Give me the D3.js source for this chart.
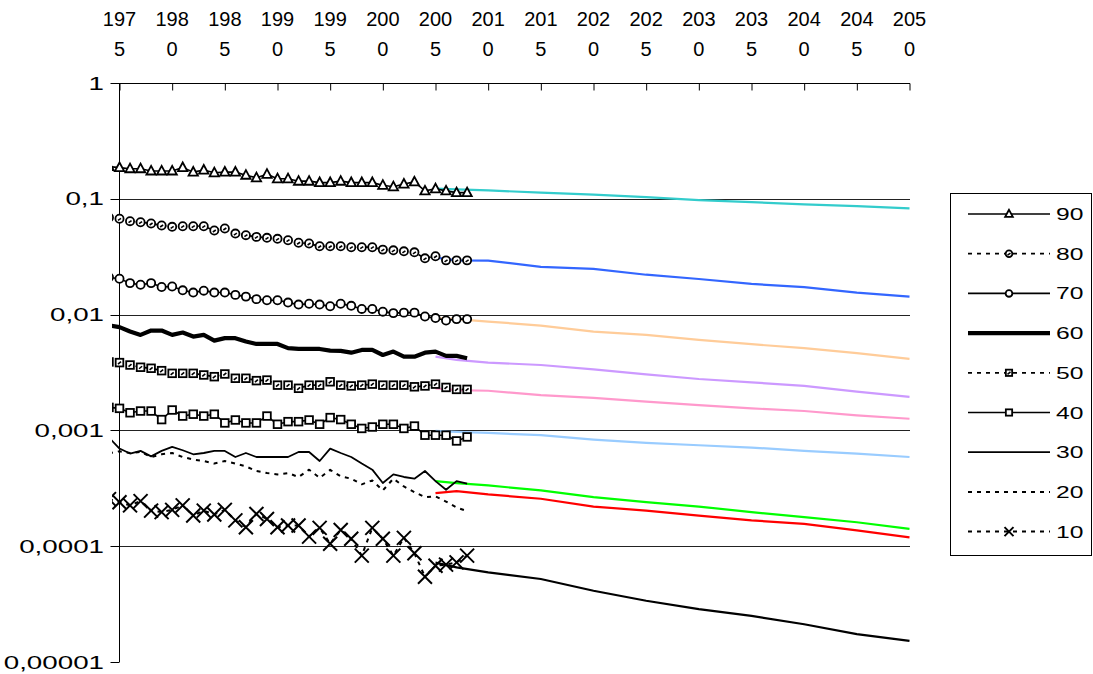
<!DOCTYPE html>
<html><head><meta charset="utf-8">
<script src="https://cdn.jsdelivr.net/npm/d3@7"></script>
<style>
html,body{margin:0;padding:0;background:#fff;}
svg{display:block;font-family:"Liberation Sans",Arial,sans-serif;}
</style></head>
<body>
<svg id="chart" width="1093" height="674"></svg>
<script>
// ---------- DATA ----------
const histYears = [1974,1975,1976,1977,1978,1979,1980,1981,1982,1983,1984,1985,1986,1987,1988,1989,1990,1991,1992,1993,1994,1995,1996,1997,1998,1999,2000,2001,2002,2003,2004,2005,2006,2007,2008];
const s90 = [0.19,0.186,0.182,0.182,0.174,0.174,0.174,0.186,0.170,0.177,0.168,0.170,0.170,0.160,0.152,0.163,0.149,0.149,0.142,0.142,0.138,0.138,0.142,0.138,0.138,0.138,0.131,0.127,0.134,0.140,0.117,0.122,0.117,0.113,0.113];
const s80 = [0.069,0.0672,0.0641,0.0628,0.0612,0.0588,0.0573,0.0580,0.0580,0.0580,0.0532,0.0554,0.0501,0.0485,0.0469,0.0460,0.0451,0.0439,0.0417,0.0411,0.0389,0.0389,0.0389,0.0382,0.0382,0.0382,0.0364,0.0359,0.0352,0.0345,0.0306,0.0319,0.0294,0.0294,0.0294];
const s70 = [0.021,0.0204,0.0187,0.0181,0.0187,0.0173,0.0175,0.0162,0.0155,0.0161,0.0155,0.0155,0.0148,0.0143,0.0136,0.0133,0.0133,0.0127,0.0122,0.0124,0.0122,0.0118,0.0124,0.0119,0.0112,0.0112,0.0106,0.0103,0.0104,0.0104,0.00963,0.00933,0.00889,0.00914,0.00914];
const s60 = [0.0081,0.00779,0.00714,0.00668,0.00728,0.00728,0.00668,0.00700,0.00646,0.00668,0.00596,0.00626,0.00626,0.00585,0.00558,0.00558,0.00558,0.00513,0.00505,0.00505,0.00505,0.00488,0.00486,0.00469,0.00495,0.00495,0.00448,0.00479,0.00433,0.00433,0.00469,0.00479,0.00440,0.00440,0.00420];
const s50 = [0.0039,0.00385,0.00367,0.00351,0.00344,0.00328,0.00311,0.00311,0.00311,0.00301,0.00291,0.00307,0.00282,0.00282,0.00269,0.00272,0.00246,0.00246,0.00231,0.00246,0.00246,0.00263,0.00246,0.00242,0.00246,0.00251,0.00246,0.00246,0.00246,0.00238,0.00242,0.00251,0.00235,0.00226,0.00226];
const s40 = [0.00158,0.00155,0.00142,0.00147,0.00147,0.00124,0.00150,0.00133,0.00138,0.00133,0.00138,0.00116,0.00123,0.00116,0.00116,0.00133,0.00113,0.00119,0.00119,0.00123,0.00113,0.00129,0.00124,0.00113,0.00104,0.00107,0.00113,0.00113,0.00104,0.00109,0.000909,0.000909,0.000909,0.000811,0.000878];
const s30 = [0.000865,0.000697,0.000631,0.000665,0.000597,0.000665,0.000720,0.000674,0.000622,0.000638,0.000665,0.000665,0.000589,0.000638,0.000589,0.000589,0.000589,0.000589,0.000651,0.000651,0.000544,0.000697,0.000638,0.000589,0.000517,0.000458,0.000351,0.000417,0.000396,0.000383,0.000446,0.000365,0.000307,0.000365,0.000347];
const s20 = [0.000634,0.000660,0.000638,0.000651,0.000589,0.000622,0.000638,0.000589,0.000560,0.000544,0.000517,0.000544,0.000517,0.000489,0.000446,0.000428,0.000417,0.000428,0.000396,0.000458,0.000389,0.000456,0.000401,0.000383,0.000342,0.000370,0.000303,0.000383,0.000328,0.000293,0.000265,0.000269,0.000243,0.000216,0.000201];
const s10 = [0.000255,0.000240,0.000225,0.000245,0.000203,0.000197,0.000206,0.000225,0.000184,0.000203,0.000188,0.000206,0.000167,0.000146,0.000190,0.000172,0.000146,0.000151,0.000151,0.000121,0.000144,0.000105,0.000138,0.000116,0.0000829,0.000144,0.000116,0.0000829,0.000118,0.0000868,0.0000545,0.0000679,0.0000693,0.0000725,0.0000829];

const projYears = [2005,2007,2010,2015,2020,2025,2030,2035,2040,2045,2050];
const p90 = [0.1224,0.1207,0.1183,0.1129,0.1085,0.1034,0.0974,0.0936,0.0894,0.0865,0.0826];
const p80 = [0.0311,0.0294,0.0293,0.0258,0.0248,0.0221,0.0203,0.0184,0.0173,0.0155,0.0143];
const p70 = [0.00933,0.00914,0.00871,0.00804,0.00714,0.00668,0.00605,0.00555,0.00513,0.00464,0.00414];
const p60 = [0.00433,0.00406,0.00385,0.00367,0.00337,0.00305,0.00278,0.00260,0.00242,0.00216,0.00195];
const p50 = [0.00231,0.00223,0.00220,0.00202,0.00191,0.00177,0.00165,0.00155,0.00147,0.00135,0.00126];
const p40 = [0.000990,0.000971,0.000951,0.000909,0.000834,0.000779,0.000744,0.000711,0.000665,0.000631,0.000589];
const p30 = [0.000365,0.000351,0.000335,0.000303,0.000265,0.000240,0.000220,0.000197,0.000178,0.000161,0.000141];
const p20 = [0.000287,0.000299,0.000280,0.000257,0.000220,0.000203,0.000184,0.000167,0.000156,0.000137,0.000119];
const p10 = [0.0000721,0.0000657,0.0000594,0.0000521,0.0000412,0.0000338,0.0000286,0.0000250,0.0000212,0.0000174,0.0000152];

const seriesNames = ["90","80","70","60","50","40","30","20","10"];
const projColors = ["#33CCCC","#3366FF","#FFCC99","#CC99FF","#FF99CC","#99CCFF","#00FF00","#FF0000","#000000"];
const xTickYears = [1975,1980,1985,1990,1995,2000,2005,2010,2015,2020,2025,2030,2035,2040,2045,2050];
const yTickValues = [1,0.1,0.01,0.001,0.0001,0.00001];
const yTickLabels = ["1","0,1","0,01","0,001","0,0001","0,00001"];

// ---------- SETUP ----------
const svg = d3.select("#chart");
const plotL = 112, plotR = 910, plotT = 83, plotB = 662;
const x = d3.scaleLinear().domain([1975, 2050]).range([119.5, 909.5]);
const y = d3.scaleLog().domain([1, 0.00001]).range([plotT, plotB]);

svg.append("defs").append("clipPath").attr("id","clip")
  .append("rect").attr("x",plotL).attr("y",plotT-10).attr("width",plotR-plotL+2).attr("height",plotB-plotT+20);

// gridlines
svg.append("g").selectAll("line").data(yTickValues.slice(1,5)).join("line")
  .attr("x1",plotL).attr("x2",plotR)
  .attr("y1",d=>Math.round(y(d))+0.5).attr("y2",d=>Math.round(y(d))+0.5)
  .attr("stroke","#222").attr("stroke-width",1);

// y axis
const yAxis = d3.axisLeft(y).tickValues(yTickValues).tickSize(9).tickFormat(()=> "");
const gy = svg.append("g").attr("transform","translate(119.5,0)").call(yAxis);
gy.select(".domain").attr("stroke","#000").attr("d",`M0,${plotT}V${plotB}`);
gy.selectAll(".tick line").attr("stroke","#000");
gy.selectAll(".tick").attr("transform", d=>`translate(0,${Math.round(y(d))+0.5})`);

svg.append("g").selectAll("text").data(yTickValues).join("text")
  .attr("transform",(d)=>`translate(104,${y(d)+6.5}) scale(1.5,1)`)
  .attr("text-anchor","end").attr("font-size",18.5).attr("fill","#000")
  .text((d,i)=>yTickLabels[i]);

// x axis at top
const xAxis = d3.axisBottom(x).tickValues(xTickYears).tickSize(7).tickFormat(()=> "");
const gx = svg.append("g").attr("transform",`translate(0,${plotT+0.5})`).call(xAxis);
gx.select(".domain").attr("stroke","#000").attr("d",`M${plotL},0H${plotR}`);
gx.selectAll(".tick line").attr("stroke","#000");

const xl = svg.append("g").selectAll("g").data(xTickYears).join("g")
  .attr("transform",d=>`translate(${x(d)},0)`);
xl.append("text").attr("y",26).attr("text-anchor","middle").attr("font-size",20).text(d=>String(d).slice(0,3));
xl.append("text").attr("y",56).attr("text-anchor","middle").attr("font-size",20).text(d=>String(d).slice(3));

// ---------- SERIES ----------
const plot = svg.append("g").attr("clip-path","url(#clip)");
const projData = [p90,p80,p70,p60,p50,p40,p30,p20,p10];
const histData = [s90,s80,s70,s60,s50,s40,s30,s20,s10];
const dash = "4,5";
const styles = [
  {w:1.6, dash:null, marker:"tri"},
  {w:1.8, dash:dash, marker:"circT"},
  {w:1.6, dash:null, marker:"circ"},
  {w:4.2, dash:null, marker:null},
  {w:1.8, dash:dash, marker:"sqT"},
  {w:1.6, dash:null, marker:"sq"},
  {w:1.8, dash:null, marker:null},
  {w:2, dash:dash, marker:null},
  {w:2, dash:dash, marker:"x"}
];

const line = d3.line().x(d=>x(d[0])).y(d=>y(d[1]));

projData.forEach((arr,i)=>{
  plot.append("path").datum(projYears.map((yr,j)=>[yr,arr[j]]))
    .attr("d",line).attr("fill","none").attr("stroke",projColors[i]).attr("stroke-width",2.2);
});

function drawMarker(g, type, cx, cy, s){
  if(type==="tri"){
    g.append("path").attr("d",`M${cx},${cy-s*0.6}L${cx-s*0.55},${cy+s*0.42}L${cx+s*0.55},${cy+s*0.42}Z`)
      .attr("fill","#fff").attr("stroke","#000").attr("stroke-width",1.8);
  } else if(type==="circ"||type==="circT"){
    g.append("circle").attr("cx",cx).attr("cy",cy).attr("r",s*0.48)
      .attr("fill","#fff").attr("stroke","#000").attr("stroke-width",1.8);
    if(type==="circT") g.append("line").attr("x1",cx-1.5).attr("y1",cy+1.5).attr("x2",cx+1.5).attr("y2",cy-0.5).attr("stroke","#000").attr("stroke-width",1.6);
  } else if(type==="sq"||type==="sqT"){
    g.append("rect").attr("x",cx-s*0.45).attr("y",cy-s*0.45).attr("width",s*0.9).attr("height",s*0.9)
      .attr("fill","#fff").attr("stroke","#000").attr("stroke-width",1.8);
    if(type==="sqT") g.append("line").attr("x1",cx-1.5).attr("y1",cy+1.5).attr("x2",cx+1.5).attr("y2",cy-1).attr("stroke","#000").attr("stroke-width",1.6);
  } else if(type==="x"){
    const h=s*0.5;
    g.append("path").attr("d",`M${cx-h},${cy-h}L${cx+h},${cy+h}M${cx-h},${cy+h}L${cx+h},${cy-h}`)
      .attr("stroke","#000").attr("stroke-width",2).attr("fill","none");
  }
}

histData.forEach((arr,i)=>{
  const st = styles[i];
  const pts = histYears.map((yr,j)=>[yr,arr[j]]);
  plot.append("path").datum(pts).attr("d",line).attr("fill","none")
    .attr("stroke","#000").attr("stroke-width",st.w)
    .attr("stroke-dasharray",st.dash).attr("stroke-linejoin","round");
  if(st.marker){
    const mg = plot.append("g");
    const size = st.marker==="x" ? 14 : 8.5;
    pts.forEach(p=>drawMarker(mg, st.marker, x(p[0]), y(p[1]), size));
  }
});

// ---------- LEGEND ----------
const lg = svg.append("g");
lg.append("rect").attr("x",950.5).attr("y",193.5).attr("width",141).attr("height",362)
  .attr("fill","#fff").attr("stroke","#000").attr("stroke-width",1);
seriesNames.forEach((name,i)=>{
  const cy = 214 + i*39.7;
  const st = styles[i];
  lg.append("line").attr("x1",968).attr("x2",1050).attr("y1",cy).attr("y2",cy)
    .attr("stroke","#000").attr("stroke-width",st.w).attr("stroke-dasharray",st.dash);
  if(st.marker) drawMarker(lg, st.marker, 1009, cy, st.marker==="x"?9:7);
  lg.append("text").attr("transform",`translate(1056,${cy+6}) scale(1.45,1)`)
    .attr("font-size",17).text(name);
});
</script>
</body></html>
